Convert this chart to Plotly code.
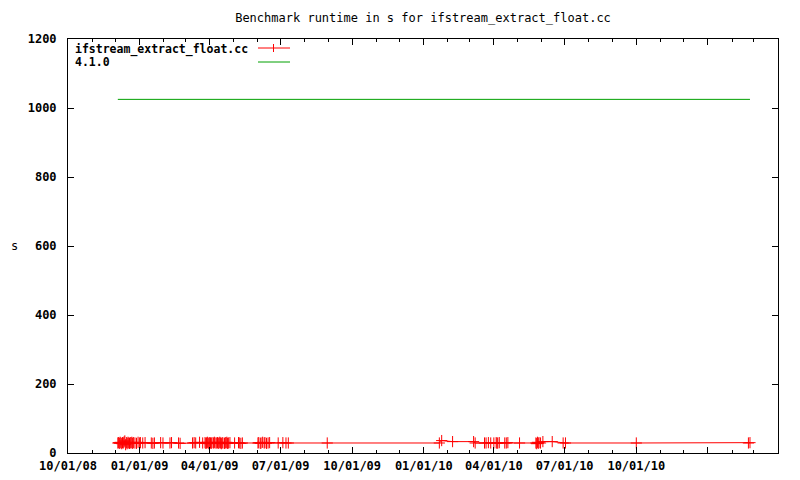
import plotly.graph_objects as go

# ---- data ----
red_dates = [
    # Dec 2008 cluster
    "2008-12-04", "2008-12-05", "2008-12-06", "2008-12-07", "2008-12-08", "2008-12-09",
    "2008-12-10", "2008-12-11", "2008-12-12", "2008-12-13", "2008-12-14", "2008-12-15",
    "2008-12-16", "2008-12-17", "2008-12-18", "2008-12-19", "2008-12-20", "2008-12-21",
    "2008-12-22", "2008-12-23", "2008-12-24", "2008-12-26", "2008-12-28", "2008-12-30",
    "2009-01-01", "2009-01-02",
    # Jan - Mar 2009
    "2009-01-05", "2009-01-08", "2009-01-16", "2009-01-18", "2009-01-20", "2009-01-28",
    "2009-01-31", "2009-02-09", "2009-02-11", "2009-02-20", "2009-02-22", "2009-03-10",
    "2009-03-12", "2009-03-14", "2009-03-19", "2009-03-23",
    # late Mar - early Apr 2009
    "2009-03-26", "2009-03-27", "2009-03-28", "2009-03-29", "2009-03-30", "2009-03-31",
    "2009-04-01", "2009-04-02", "2009-04-03", "2009-04-04", "2009-04-06", "2009-04-07",
    "2009-04-08",
    # Apr 2009
    "2009-04-10", "2009-04-11", "2009-04-12", "2009-04-13", "2009-04-14", "2009-04-15",
    "2009-04-16", "2009-04-17", "2009-04-18", "2009-04-20", "2009-04-21", "2009-04-22",
    "2009-04-23", "2009-04-24", "2009-04-25", "2009-04-27",
    # May 2009
    "2009-05-03", "2009-05-08", "2009-05-09", "2009-05-11", "2009-05-13",
    # Jun 2009
    "2009-06-02", "2009-06-03", "2009-06-05", "2009-06-06", "2009-06-08", "2009-06-10",
    "2009-06-11", "2009-06-13", "2009-06-15", "2009-06-17",
    # Jul - Aug 2009
    "2009-06-28", "2009-07-04", "2009-07-08", "2009-07-11", "2009-08-30",
    # early 2010
    "2010-01-21", "2010-01-24", "2010-02-07", "2010-03-06", "2010-03-08",
    # Mar - Apr 2010
    "2010-03-20", "2010-03-22", "2010-03-25", "2010-03-28", "2010-04-01", "2010-04-04",
    "2010-04-05", "2010-04-06", "2010-04-08", "2010-04-15", "2010-04-17", "2010-04-19",
    # May 2010 - 2011
    "2010-05-04", "2010-05-25", "2010-05-26", "2010-05-27", "2010-05-28", "2010-05-29",
    "2010-05-31", "2010-06-03", "2010-06-15", "2010-06-29", "2010-07-02", "2010-10-01",
    "2011-02-22", "2011-02-24",
]
red_values = [
    29, 30, 28, 31, 29, 27, 30, 29, 32, 35, 24, 30, 27, 31, 29, 28, 30, 29, 31, 28, 30, 29, 28, 31, 29, 30,
    29, 30, 29, 28, 29, 30, 29, 29, 30, 29, 28, 29, 30, 29, 31, 29,
    30, 28, 29, 31, 29, 27, 30, 29, 28, 30, 29, 31, 29,
    29, 30, 28, 29, 31, 29, 27, 30, 29, 28, 30, 29, 31, 28, 29, 30,
    29, 30, 29, 28, 29,
    29, 30, 28, 29, 31, 29, 30, 28, 29, 30,
    29, 30, 29, 29, 29,
    29, 36, 33, 33, 29,
    29, 29, 30, 29, 29, 30, 28, 29, 30, 29, 29, 30,
    29, 29, 27, 31, 28, 30, 29, 33, 33, 29, 29, 29, 29, 30,
]
green_dates = ["2008-12-04", "2011-02-24"]
green_values = [1025, 1025]

x_tickvals = ["2008-10-01", "2009-01-01", "2009-04-01", "2009-07-01", "2009-10-01",
              "2010-01-01", "2010-04-01", "2010-07-01", "2010-10-01", "2011-01-01"]
x_ticktext = ["10/01/08", "01/01/09", "04/01/09", "07/01/09", "10/01/09",
              "01/01/10", "04/01/10", "07/01/10", "10/01/10", ""]
y_tickvals = [0, 200, 400, 600, 800, 1000, 1200]

series_names = ["ifstream_extract_float.cc", "4.1.0"]
title_text = "Benchmark runtime in s for ifstream_extract_float.cc"

MONO = "DejaVu Sans Mono"
RED = "#ff0000"
GREEN = "#00a000"

fig = go.Figure()
fig.add_trace(go.Scatter(
    x=red_dates, y=red_values, mode="lines+markers", name=series_names[0],
    line=dict(color=RED, width=1),
    marker=dict(symbol="cross-thin", size=8, line=dict(color=RED, width=1)),
    showlegend=False,
))
fig.add_trace(go.Scatter(
    x=green_dates, y=green_values, mode="lines", name=series_names[1],
    line=dict(color=GREEN, width=1), showlegend=False,
))

L, R, T, B = 68, 22, 39, 27
W, H = 800, 480
pw, ph = W - L - R, H - T - B

def px(x):
    return (x - L) / pw

def py(y):
    return (H - B - y) / ph

fig.update_layout(
    width=W, height=H,
    margin=dict(l=L, r=R, t=T, b=B, autoexpand=False),
    paper_bgcolor="white", plot_bgcolor="white",
    title=dict(text=title_text, x=(L + pw / 2) / W, xanchor="center",
               y=1 - 18 / H, yanchor="middle", automargin=False,
               font=dict(family=MONO, size=12, color="black")),
    showlegend=False,
)
fig.update_xaxes(
    type="date", range=["2008-10-01", "2011-04-01"], automargin=False,
    tickmode="array", tickvals=x_tickvals, ticktext=x_ticktext,
    ticks="inside", ticklen=6, tickcolor="black", tickwidth=1,
    minor=dict(ticks="inside", ticklen=3, dtick="M1", tick0="2008-10-01",
               tickcolor="black", showgrid=False),
    showline=True, linecolor="black", linewidth=1, mirror="ticks",
    showgrid=False, zeroline=False, ticklabelstandoff=2,
    tickfont=dict(family=MONO, size=12, color="black", weight="bold"),
)
fig.update_yaxes(
    range=[0, 1200], tickmode="array", tickvals=y_tickvals, automargin=False,
    ticks="inside", ticklen=6, tickcolor="black", tickwidth=1,
    showline=True, linecolor="black", linewidth=1, mirror="ticks",
    showgrid=False, zeroline=False, ticklabelstandoff=8,
    tickfont=dict(family=MONO, size=12, color="black", weight="bold"),
)

# y-axis label
fig.add_annotation(text="s", xref="paper", yref="paper", x=px(14), y=py(246),
                   xanchor="center", yanchor="middle", showarrow=False,
                   font=dict(family=MONO, size=12, color="black"))

# key (gnuplot style: text on left, sample on right)
key_font = dict(family=MONO, size=11.5, color="black", weight="bold")
fig.add_annotation(text=series_names[0], xref="paper", yref="paper",
                   x=px(74), y=py(49), xanchor="left", yanchor="middle", showarrow=False,
                   borderpad=0, font=key_font)
fig.add_annotation(text=series_names[1], xref="paper", yref="paper",
                   x=px(74), y=py(62), xanchor="left", yanchor="middle", showarrow=False,
                   borderpad=0, font=key_font)
fig.add_shape(type="line", xref="paper", yref="paper",
              x0=px(258), x1=px(290), y0=py(48), y1=py(48), line=dict(color=RED, width=1))
fig.add_shape(type="line", xref="paper", yref="paper",
              x0=px(273.5), x1=px(273.5), y0=py(44), y1=py(52), line=dict(color=RED, width=1))
fig.add_shape(type="line", xref="paper", yref="paper",
              x0=px(258), x1=px(290), y0=py(62), y1=py(62), line=dict(color=GREEN, width=1))

fig.write_html("out.html", config={"displayModeBar": False},
               post_script="document.body.style.margin='0';")
